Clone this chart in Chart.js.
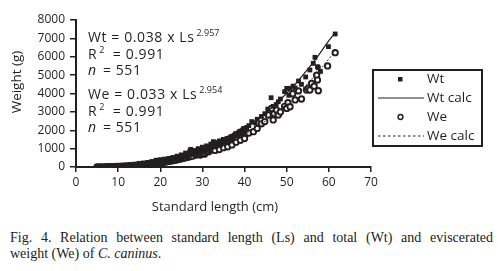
<!DOCTYPE html>
<html>
<head>
<meta charset="utf-8">
<script src="https://cdn.jsdelivr.net/npm/chart.js@4.4.1/dist/chart.umd.min.js"></script>
<style>
  body { margin: 0; background: #fff; width: 498px; height: 271px; overflow: hidden; position: relative; }
  #chart { position: absolute; left: 0; top: 0; }
  .caption { position: absolute; left: 10px; width: 483px; font-family: "Liberation Serif", serif; font-size: 14px; line-height: 16px; color: #222; }
  #cap1 { top: 230px; text-align: justify; text-align-last: justify; white-space: nowrap; }
  #cap2 { top: 246px; }
</style>
</head>
<body>
<canvas id="chart" width="498" height="220"></canvas>
<div class="caption" id="cap1">Fig. 4. Relation between standard length (Ls) and total (Wt) and eviscerated</div>
<div class="caption" id="cap2">weight (We) of <i>C. caninus</i>.</div>
<script>
"use strict";

// 1: data
const seriesNames = ['Wt', 'Wt calc', 'We', 'We calc'];

// total weight, measured
const wtLength = [5, 5.5, 6, 6.5, 7, 7.5, 8, 8.5, 9, 9.5, 10, 10.5, 11, 11.5, 12, 12.5, 13, 13.5, 14, 14.5,
  15, 15.5, 16, 16.5, 17, 17.5, 18, 18.5, 19, 19.5, 20, 20.5, 21, 21.5, 22, 22.5, 23, 23.5, 24, 24.5,
  25, 25.2, 25.5, 26, 26.3, 26.5, 27, 27.2, 27.5, 28, 28.3, 28.5, 29, 29.2, 29.5, 30, 30.2, 30.5, 31, 31.3,
  31.5, 32, 32.5, 32.6, 33, 33.2, 33.5, 34, 34.3, 34.5, 35, 35.5, 36, 36.2, 36.5, 37, 37.3, 37.5, 38, 38.3,
  38.5, 39, 39.3, 39.5, 40, 40.5, 41, 41.7, 42.5, 43, 44, 44.8, 45.5, 46.3, 46.8, 47.5, 48, 48.5, 49.5, 50,
  50.5, 50.8, 51.5, 52, 52.8, 53.5, 54.5, 55.5, 56.3, 56.7, 57.3, 57.5, 58, 59.9, 61.5,
  5.2, 5.8, 6.3, 6.8, 7.3, 7.8, 8.3, 8.8, 9.3, 9.8, 10.3, 10.8, 11.3, 11.8, 12.3, 12.8, 13.3, 13.8, 14.3, 14.8,
  15.3, 15.8, 16.3, 16.8, 17.3, 17.8, 18.3, 18.8, 19.3, 19.8, 20.3, 20.8, 21.3, 21.8, 22.3, 22.8, 23.3, 23.8, 24.3, 24.8,
  25.8, 26.8, 27.8, 28.8, 29.8, 30.8, 31.8, 32.8, 33.8, 34.8, 35.8, 36.8, 37.8, 38.8, 39.8,
  12, 13, 14, 15, 16, 17, 18, 19, 20, 21, 22, 23, 24, 25, 26, 27, 28, 29, 30, 31,
  32, 33, 34, 35, 36, 37, 38, 39];
const wtWeight = [5, 6, 8, 10, 12, 15, 18, 22, 26, 30, 36, 40, 46, 52, 60, 66, 74, 84, 92, 104,
  115, 126, 140, 150, 165, 180, 196, 212, 230, 248, 268, 285, 305, 330, 355, 378, 400, 430, 455, 485,
  520, 460, 548, 580, 540, 615, 650, 960, 690, 730, 680, 770, 805, 740, 850, 890, 820, 935, 985, 900,
  1030, 1080, 1130, 1380, 1185, 1100, 1240, 1300, 1200, 1350, 1500, 1470, 1530, 1400, 1590, 1660, 1550, 1720, 1790, 1700,
  1860, 1940, 1820, 2010, 2080, 2150, 2250, 2470, 2400, 2600, 2750, 2900, 3150, 3770, 3300, 3400, 3550, 3700, 4100, 4280,
  3900, 4280, 4400, 4300, 4680, 4500, 4900, 5280, 5640, 5970, 5460, 5400, 5200, 6550, 7240,
  5, 7, 9, 11, 14, 17, 20, 24, 29, 34, 38, 44, 50, 57, 63, 72, 80, 90, 100, 112,
  120, 135, 146, 160, 175, 190, 205, 224, 240, 262, 280, 300, 320, 345, 365, 395, 420, 445, 475, 505,
  600, 660, 740, 830, 900, 980, 1080, 1150, 1290, 1420, 1540, 1650, 1800, 1920, 2100,
  110, 130, 160, 200, 220, 250, 300, 370, 400, 430, 470, 520, 590, 660, 760, 860, 900, 1000, 1080, 1150,
  1250, 1330, 1420, 1500, 1560, 1650, 1800, 1950];

// eviscerated weight, measured
const weLength = [5, 6, 7, 8, 9, 10, 11, 12, 13, 14, 15, 16, 17, 18, 19, 20, 21, 22, 23, 24,
  25, 26, 27, 28, 29, 29.5, 30, 30.5, 31, 31.5, 32, 33, 33.5, 34, 35, 35.5, 36, 37, 37.5, 38,
  38.5, 39, 40, 40.1, 41, 42.1, 43, 44, 44.8, 45.6, 46.4, 46.8, 47, 47.6, 48, 48.5, 49.5, 50, 50.3, 50.8,
  51.4, 52, 52.8, 53.5, 54.7, 55.1, 55.5, 55.9, 56.5, 57.1, 57.3, 57.5, 59.7, 61.5,
  5.5, 6.5, 7.5, 8.5, 9.5, 10.5, 11.5, 12.5, 13.5, 14.5, 15.5, 16.5, 17.5, 18.5, 19.5, 20.5, 21.5, 22.5, 23.5, 24.5,
  25.5, 26.5, 27.5, 28.5, 29.2, 30.2, 31.2, 32.5, 34.5, 36.5, 38.2, 39.5,
  33, 34, 35, 36, 37, 38, 39, 40];
const weWeight = [4, 7, 10, 16, 22, 30, 40, 51, 64, 80, 98, 120, 142, 170, 198, 230, 265, 305, 345, 395,
  445, 500, 560, 620, 690, 650, 760, 700, 840, 830, 920, 1010, 980, 1100, 1200, 1180, 1300, 1410, 1350, 1530,
  1560, 1650, 1780, 1740, 1850, 1920, 2100, 2350, 2470, 2830, 3190, 2560, 2900, 3100, 2830, 3000, 3300, 3190, 3500, 3280,
  3990, 3650, 4140, 3700, 4190, 4280, 4190, 4550, 4400, 5000, 4730, 4150, 5500, 6220,
  5, 8, 13, 19, 26, 35, 45, 57, 72, 88, 108, 130, 155, 183, 214, 245, 285, 325, 370, 420,
  470, 530, 590, 655, 720, 780, 870, 960, 1150, 1360, 1580, 1700,
  900, 950, 1050, 1100, 1200, 1350, 1450, 1550];

// fitted curves
const calcLength = [5, 7.5, 10, 12.5, 15, 17.5, 20, 22.5, 25, 27.5, 30, 32.5, 35, 37.5, 40, 42.5, 45, 47.5, 50, 52.5, 55, 57.5, 60, 61.5];
const wtCalc = [4.4, 14.7, 34.4, 66.6, 114, 180, 267, 379, 517, 685, 886, 1123, 1398, 1714, 2075, 2481, 2937, 3450, 4013, 4632, 5320, 6065, 6880, 7300];
const weCalc = [3.8, 12.6, 29.6, 57, 98, 155, 229, 326, 444, 589, 760, 965, 1200, 1473, 1777, 2130, 2515, 2960, 3434, 3970, 4550, 5190, 5880, 6330];

// equations printed inside the plot: [main text, superscript, rest]
const eqLines = [
  ['Wt = 0.038 x Ls', '2.957', ''],
  ['R', '2', '  = 0.991'],
  ['n', '', ' = 551'],
  ['We = 0.033 x Ls', '2.954', ''],
  ['R', '2', '  = 0.991'],
  ['n', '', ' = 551']
];
const eqRowY = [38, 55, 71, 95, 112, 128];

// 2: helpers
function toPoints(xs, ys) {
  return xs.map((x, i) => ({ x: x, y: ys[i] }));
}

const ink = '#231f20';
const sans = '"Open Sans", sans-serif';

// 3: text, legend box, axis titles
const annotations = {
  id: 'annotations',
  afterDraw(chart) {
    const ctx = chart.ctx;
    ctx.save();
    ctx.fillStyle = ink;
    ctx.strokeStyle = ink;
    ctx.textBaseline = 'middle';
    ctx.textAlign = 'left';

    // equations
    eqLines.forEach((row, i) => {
      let x = 88;
      const y = eqRowY[i];
      ctx.letterSpacing = '0.6px';
      ctx.font = (row[0] === 'n' ? 'italic ' : '') + '14px ' + sans;
      ctx.fillText(row[0], x, y);
      x += ctx.measureText(row[0]).width + 2;
      if (row[1]) {
        ctx.font = '9px ' + sans;
        ctx.letterSpacing = '0px';
        ctx.fillText(row[1], x, y - 5);
        x += ctx.measureText(row[1]).width;
      }
      if (row[2]) {
        ctx.font = '14px ' + sans;
        ctx.letterSpacing = '0.6px';
        ctx.fillText(row[2], x, y);
      }
    });
    ctx.letterSpacing = '0px';

    // axis titles
    ctx.font = '13px ' + sans;
    ctx.textAlign = 'center';
    ctx.fillText('Standard length (cm)', 215, 207);
    ctx.save();
    ctx.translate(17, 82);
    ctx.rotate(-Math.PI / 2);
    ctx.font = '13.5px ' + sans;
    ctx.fillText('Weight (g)', 0, 0);
    ctx.restore();

    // legend box
    ctx.lineWidth = 2;
    ctx.strokeRect(373, 70, 109, 76);
    const rows = [79, 98, 117, 136];
    ctx.textAlign = 'left';
    ctx.font = '13.5px ' + sans;
    seriesNames.forEach((name, i) => {
      ctx.fillText(name, 427, rows[i]);
    });
    // Wt marker
    ctx.fillRect(398, rows[0] - 2, 4.5, 4.5);
    // Wt calc line
    ctx.lineWidth = 1.2;
    ctx.beginPath();
    ctx.moveTo(378, rows[1]);
    ctx.lineTo(424, rows[1]);
    ctx.stroke();
    // We marker
    ctx.lineWidth = 1.5;
    ctx.beginPath();
    ctx.arc(400.5, rows[2], 2.4, 0, Math.PI * 2);
    ctx.stroke();
    // We calc line
    ctx.lineWidth = 1;
    ctx.setLineDash([2.5, 2.5]);
    ctx.beginPath();
    ctx.moveTo(378, rows[3]);
    ctx.lineTo(424, rows[3]);
    ctx.stroke();
    ctx.restore();
  }
};

// 4: chart
new Chart(document.getElementById('chart'), {
  type: 'scatter',
  data: {
    datasets: [
      {
        label: seriesNames[1],
        data: toPoints(calcLength, wtCalc),
        showLine: true,
        borderColor: ink,
        borderWidth: 1.2,
        pointRadius: 0,
        cubicInterpolationMode: 'monotone',
        order: 0
      },
      {
        label: seriesNames[3],
        data: toPoints(calcLength, weCalc),
        showLine: true,
        borderColor: ink,
        borderWidth: 1,
        borderDash: [2, 2],
        pointRadius: 0,
        cubicInterpolationMode: 'monotone',
        order: 1
      },
      {
        label: seriesNames[0],
        data: toPoints(wtLength, wtWeight),
        pointStyle: 'rect',
        pointRadius: 3.4,
        backgroundColor: ink,
        borderColor: ink,
        borderWidth: 0,
        order: 2
      },
      {
        label: seriesNames[2],
        data: toPoints(weLength, weWeight),
        pointStyle: 'circle',
        pointRadius: 2.7,
        backgroundColor: '#fff',
        borderColor: ink,
        borderWidth: 1.9,
        order: 3
      }
    ]
  },
  options: {
    responsive: false,
    animation: false,
    events: [],
    layout: { padding: { top: 20, right: 127, left: 0, bottom: 0 } },
    plugins: {
      legend: { display: false },
      tooltip: { enabled: false }
    },
    scales: {
      x: {
        type: 'linear',
        min: 0,
        max: 70,
        ticks: { stepSize: 10, color: ink, font: { family: sans, size: 12 }, padding: 3, callback: v => String(v) },
        grid: { drawOnChartArea: false, tickLength: 5, color: ink, lineWidth: 1.5 },
        border: { color: ink, width: 2 },
        afterFit: s => { s.height = 53; }
      },
      y: {
        min: 0,
        max: 8000,
        ticks: { stepSize: 1000, color: ink, font: { family: sans, size: 12 }, padding: 5, callback: v => String(v) },
        grid: { drawOnChartArea: false, tickLength: 6, color: ink, lineWidth: 1.5 },
        border: { color: ink, width: 2 },
        afterFit: s => { s.width = 76; }
      }
    }
  },
  plugins: [annotations]
});
</script>
</body>
</html>
